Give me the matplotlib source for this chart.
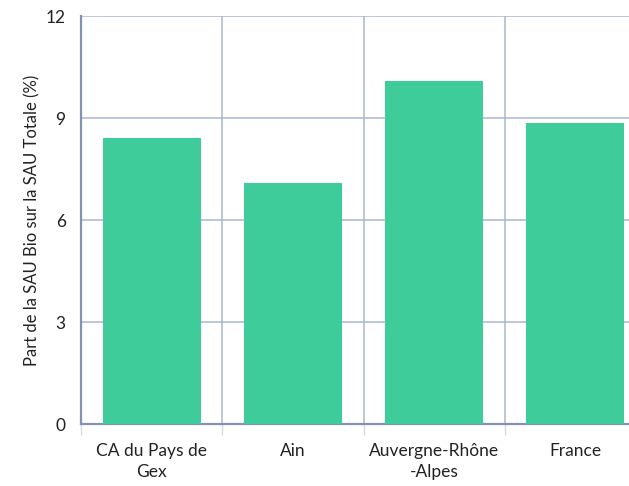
import matplotlib.pyplot as plt
import numpy as np

plt.rcParams['font.family'] = ['Lato', 'DejaVu Sans']

categories = ['CA du Pays de\nGex', 'Ain', 'Auvergne-Rhône\n-Alpes', 'France']
values = [8.4, 7.1, 10.08, 8.84]
yticks = [0, 3, 6, 9, 12]

bar_color = '#3fcc9b'
grid_color = '#aab5cf'
axis_color = '#8391b3'

fig = plt.figure(figsize=(6.29, 4.86), dpi=100)
ax = fig.add_axes([81 / 629, 62 / 486, 565 / 629, 408 / 486])

x = np.arange(len(categories))
ax.bar(x, values, width=0.695, color=bar_color, zorder=3)

ax.set_xlim(-0.5, len(categories) - 0.5)
ax.set_ylim(0, 12)
ax.set_yticks(yticks)
ax.set_xticks(x)
ax.set_xticklabels(categories, fontsize=12.5, color='#222222', linespacing=1.35)
ax.set_xticks(np.arange(len(categories) + 1) - 0.5, minor=True)

ax.tick_params(axis='x', which='major', length=0, pad=14)
ax.tick_params(axis='x', which='minor', length=8, width=1, color='#d5d9e2')
ax.tick_params(axis='y', length=0, pad=11, labelsize=12.5, labelcolor='#222222')

ax.grid(axis='y', color=grid_color, linewidth=1.1, zorder=0)
ax.grid(axis='x', which='minor', color=grid_color, linewidth=1.1, zorder=0)

for side in ['top', 'right']:
    ax.spines[side].set_visible(False)
ax.spines['left'].set_color(axis_color)
ax.spines['left'].set_linewidth(1.6)
ax.spines['bottom'].set_color(axis_color)
ax.spines['bottom'].set_linewidth(1.6)

ax.set_ylabel('Part de la SAU Bio sur la SAU Totale (%)', fontsize=12,
              color='#222222', labelpad=4)

fig.savefig('out.png', dpi=100)
